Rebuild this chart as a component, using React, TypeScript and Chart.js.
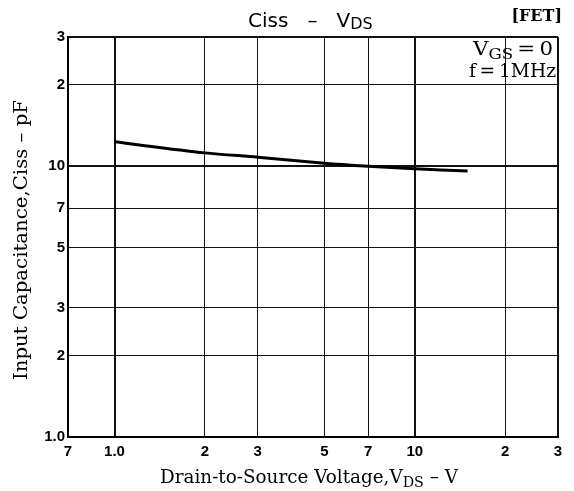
import React, { useEffect, useRef } from "react";
import { Chart, registerables } from "chart.js";

Chart.register(...registerables);

const xTicks = [0.7, 1, 2, 3, 5, 7, 10, 20, 30];
const xTickLabels = ["7", "1.0", "2", "3", "5", "7", "10", "2", "3"];
const yTicks = [1, 2, 3, 5, 7, 10, 20, 30];
const yTickLabels = ["1.0", "2", "3", "5", "7", "10", "2", "3"];

const vdsValues = [1, 2, 3, 5, 7, 10, 15];
const cissValues = [12.3, 11.2, 10.8, 10.26, 10.0, 9.78, 9.6];

type Run = { t: string; font: string; dy?: number };

function runsWidth(ctx: CanvasRenderingContext2D, runs: Run[]) {
  let w = 0;
  for (const r of runs) {
    ctx.font = r.font;
    w += ctx.measureText(r.t).width;
  }
  return w;
}

function drawRuns(
  ctx: CanvasRenderingContext2D,
  runs: Run[],
  x: number,
  y: number,
  align: "left" | "center" | "right",
  targetWidth?: number
) {
  const natural = runsWidth(ctx, runs);
  const sx = targetWidth ? targetWidth / natural : 1;
  const total = natural * sx;
  let start = x;
  if (align === "center") start = x - total / 2;
  if (align === "right") start = x - total;
  ctx.save();
  ctx.translate(start, y);
  ctx.scale(sx, 1);
  ctx.textAlign = "left";
  ctx.textBaseline = "alphabetic";
  ctx.fillStyle = "#000";
  let cx = 0;
  for (const r of runs) {
    ctx.font = r.font;
    ctx.fillText(r.t, cx, r.dy || 0);
    cx += ctx.measureText(r.t).width;
  }
  ctx.restore();
}

const SERIF = '"DejaVu Serif", "Liberation Serif", serif';
const SANS = '"DejaVu Sans", "Liberation Sans", sans-serif';

const textPlugin = {
  id: "texts",
  afterDraw(chart: any) {
    const ctx: CanvasRenderingContext2D = chart.ctx;
    const area = chart.chartArea;
    // Title
    drawRuns(
      ctx,
      [
        { t: "Ciss   \u2013   V", font: `20px ${SANS}` },
        { t: "DS", font: `16px ${SANS}`, dy: 2 },
      ],
      248,
      27,
      "left"
    );
    // [FET]
    drawRuns(ctx, [{ t: "[FET]", font: `bold 16px ${SERIF}` }], 562, 21, "right");
    // Conditions
    drawRuns(
      ctx,
      [
        { t: "V", font: `18px ${SERIF}` },
        { t: "GS", font: `14px ${SERIF}`, dy: 4 },
        { t: "\u2009=\u20090", font: `18px ${SERIF}` },
      ],
      area.right - 5,
      area.top + 18,
      "right",
      80
    );
    drawRuns(
      ctx,
      [{ t: "f\u2009=\u20091MHz", font: `18px ${SERIF}` }],
      area.right - 2,
      area.top + 40,
      "right",
      87
    );
    // X title
    drawRuns(
      ctx,
      [
        { t: "Drain-to-Source Voltage,V", font: `18px ${SERIF}` },
        { t: "DS", font: `14px ${SERIF}`, dy: 4 },
        { t: " \u2013 V", font: `18px ${SERIF}` },
      ],
      309,
      483,
      "center",
      298
    );
    // Y title
    ctx.save();
    ctx.translate(27, 240);
    ctx.rotate(-Math.PI / 2);
    drawRuns(
      ctx,
      [{ t: "Input Capacitance,Ciss \u2013 pF", font: `18px ${SERIF}` }],
      0,
      0,
      "center",
      280
    );
    ctx.restore();
  },
};

export default function App() {
  const ref = useRef<HTMLCanvasElement | null>(null);
  useEffect(() => {
    document.body.style.margin = "0";
    const canvas = ref.current!;
    const data = vdsValues.map((x, i) => ({ x, y: cissValues[i] }));
    const chart = new Chart(canvas, {
      type: "line",
      data: {
        datasets: [
          {
            data,
            borderColor: "#000",
            borderWidth: 3,
            pointRadius: 0,
            tension: 0.3,
            fill: false,
          },
        ],
      },
      plugins: [textPlugin],
      options: {
        responsive: false,
        animation: false,
        devicePixelRatio: 1,
        layout: { padding: { top: 37, right: 16, left: 0, bottom: 0 } },
        plugins: {
          legend: { display: false },
          tooltip: { enabled: false },
          title: { display: false },
        },
        scales: {
          x: {
            type: "logarithmic",
            min: 0.7,
            max: 30,
            afterBuildTicks: (s: any) => {
              s.ticks = xTicks.map((v) => ({ value: v }));
            },
            afterFit: (s: any) => {
              s.height = 54;
            },
            ticks: {
              autoSkip: false,
              maxRotation: 0,
              padding: 6,
              color: "#000",
              font: { family: '"Liberation Sans", Arial, sans-serif', size: 15, weight: "bold" },
              callback: (_v: any, i: number) => xTickLabels[i],
            },
            grid: {
              drawTicks: false,
              color: "#111",
              lineWidth: (c: any) =>
                c.tick && (c.tick.value === 1 || c.tick.value === 10 || c.tick.value === 30) ? 2 : 1,
            },
            border: { display: true, color: "#000", width: 2 },
          },
          y: {
            type: "logarithmic",
            min: 1,
            max: 30,
            afterBuildTicks: (s: any) => {
              s.ticks = yTicks.map((v) => ({ value: v }));
            },
            afterFit: (s: any) => {
              s.width = 68;
            },
            ticks: {
              autoSkip: false,
              padding: 3,
              color: "#000",
              font: { family: '"Liberation Sans", Arial, sans-serif', size: 15, weight: "bold" },
              callback: (_v: any, i: number) => yTickLabels[i],
            },
            grid: {
              drawTicks: false,
              color: "#111",
              lineWidth: (c: any) =>
                c.tick && (c.tick.value === 10 || c.tick.value === 30) ? 2 : 1,
            },
            border: { display: true, color: "#000", width: 2 },
          },
        },
      } as any,
    });
    return () => chart.destroy();
  }, []);
  return (
    <div style={{ width: 574, height: 491, background: "#fff" }}>
      <canvas ref={ref} width={574} height={491} />
    </div>
  );
}
